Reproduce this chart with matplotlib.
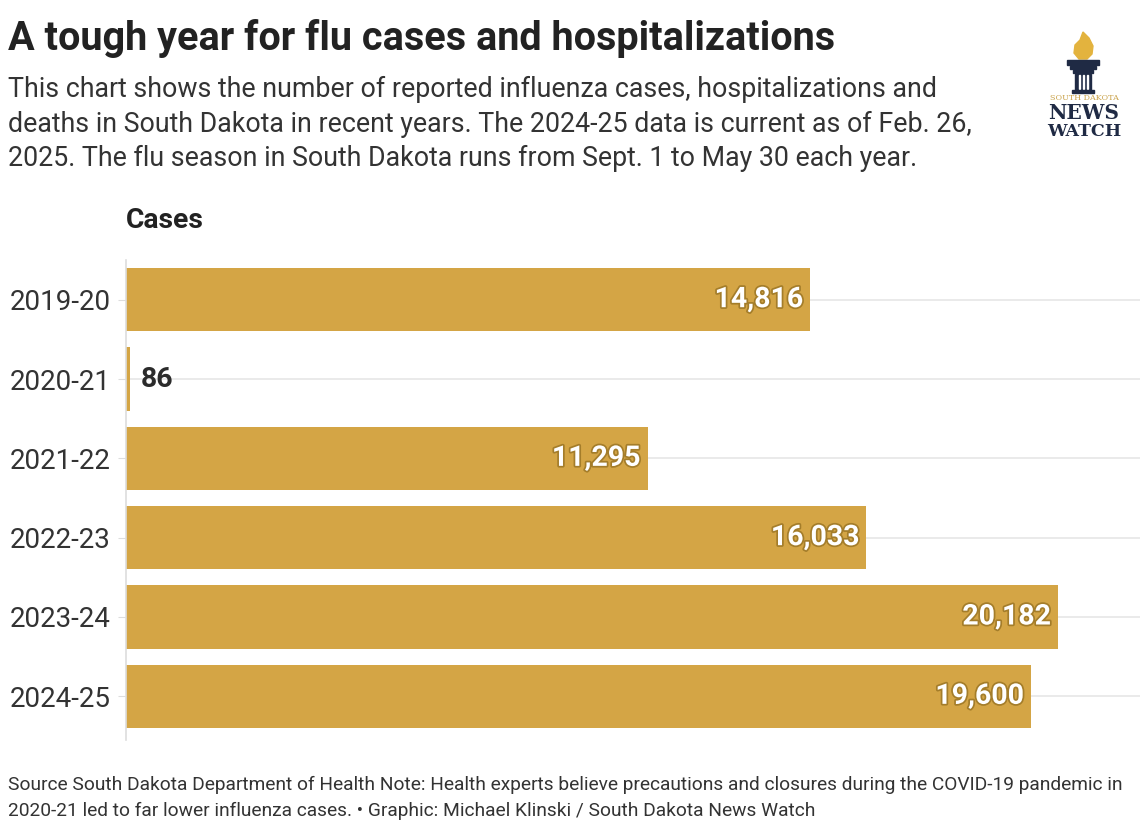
import matplotlib.pyplot as plt
import matplotlib.patheffects as pe
from matplotlib.patches import Polygon, Rectangle

# data
seasons = ["2019-20", "2020-21", "2021-22", "2022-23", "2023-24", "2024-25"]
cases = [14816, 86, 11295, 16033, 20182, 19600]

gold = "#D4A545"
dark = "#2b2b2b"

plt.rcParams['font.family'] = ['Roboto', 'DejaVu Sans']

fig = plt.figure(figsize=(11.4, 8.38), dpi=100)
ax = fig.add_axes([0.1105, 0.117, 0.8895, 0.5727])

ypos = list(range(len(seasons)))
ax.barh(ypos, cases, height=0.8, color=gold, zorder=2)
for y in ypos:
    ax.axhline(y, color="#e6e6e6", lw=1.2, zorder=1)

ax.set_xlim(0, 21960)
ax.set_ylim(5.55, -0.5)
ax.set_yticks(ypos)
ax.set_yticklabels(seasons, fontsize=20, color="#333333")
ax.tick_params(axis='y', length=6, color="#dddddd", pad=5)
ax.set_xticks([])
for s in ["top", "right", "bottom"]:
    ax.spines[s].set_visible(False)
ax.spines["left"].set_color("#dddddd")
ax.spines["left"].set_linewidth(1.2)

for y, v in zip(ypos, cases):
    lab = f"{v:,}"
    if v > 2000:
        ax.text(v - 150, y, lab, ha="right", va="center", fontsize=20.5, fontweight="bold",
                color="white", zorder=3,
                path_effects=[pe.withStroke(linewidth=2.5, foreground="#a47d2a")])
    else:
        ax.text(v + 230, y, lab, ha="left", va="center", fontsize=20.5, fontweight="bold",
                color=dark, zorder=3)

# headings
fig.text(8 / 1140, 1 - 38 / 838, "A tough year for flu cases and hospitalizations",
         fontsize=28.5, fontweight="bold", color="#222222", va="center")
sub = ("This chart shows the number of reported influenza cases, hospitalizations and\n"
       "deaths in South Dakota in recent years. The 2024-25 data is current as of Feb. 26,\n"
       "2025. The flu season in South Dakota runs from Sept. 1 to May 30 each year.")
fig.text(8 / 1140, 1 - 76 / 838, sub, fontsize=19.3, color="#333333", va="top", linespacing=1.36)
fig.text(126 / 1140, 1 - 220 / 838, "Cases", fontsize=20.3, fontweight="bold", color="#222222",
         va="center")

foot = ("Source South Dakota Department of Health Note: Health experts believe precautions and closures during the COVID-19 pandemic in\n"
        "2020-21 led to far lower influenza cases. \u2022 Graphic: Michael Klinski / South Dakota News Watch")
fig.text(8 / 1140, 1 - 776 / 838, foot, fontsize=13.8, color="#333333", va="top", linespacing=1.58)

# logo
W, H = 1140, 838


def fx(px):
    return px / W


def fy(py):
    return 1 - py / H


def box(x0, y0, w, h, c):
    fig.patches.append(Rectangle((fx(x0), fy(y0 + h)), w / W, h / H,
                                 transform=fig.transFigure, color=c))


flame = [(1083, 32), (1089, 38), (1093, 46), (1092, 54), (1087, 59), (1079, 59),
         (1074, 53), (1075, 45), (1080, 40)]
fig.patches.append(Polygon([(fx(a), fy(b)) for a, b in flame], closed=True,
                           transform=fig.transFigure, color="#E3B33E"))
navy = "#1f2a44"
box(1067, 60, 32, 5, navy)
box(1070, 66, 26, 3, navy)
box(1073, 70, 20, 3, navy)
box(1075, 74, 16, 16, navy)
for gx in (1079, 1083, 1087):
    box(gx, 75, 1, 14, "white")
box(1072, 90, 22, 3, navy)
fig.text(fx(1084), fy(98.5), "SOUTH DAKOTA", fontsize=5.8, color="#c9a24a", ha="center",
         va="center", family="DejaVu Serif")
fig.text(fx(1084), fy(113), "NEWS", fontsize=14.5, fontweight="bold", color=navy, ha="center",
         va="center", family="DejaVu Serif")
fig.text(fx(1084), fy(132), "WATCH", fontsize=12.5, fontweight="bold", color=navy, ha="center",
         va="center", family="DejaVu Serif")

fig.savefig("out.png", dpi=100)
